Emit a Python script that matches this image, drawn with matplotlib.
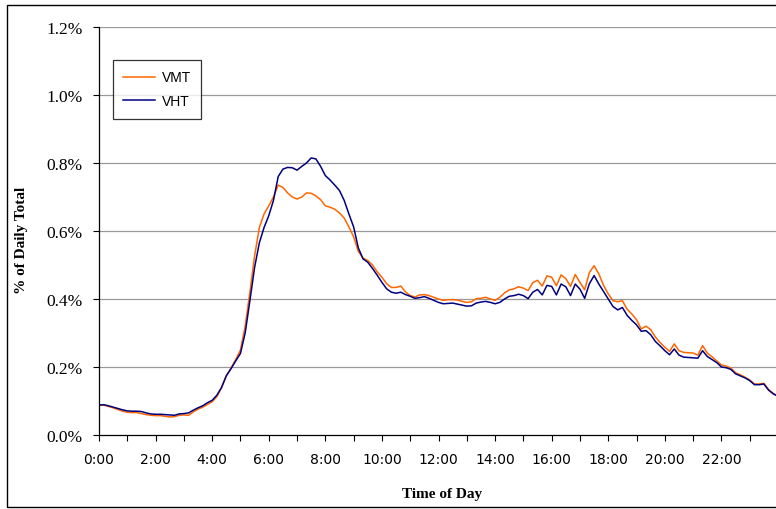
import numpy as np
import matplotlib.pyplot as plt
from matplotlib.patches import Rectangle
from matplotlib.ticker import FuncFormatter

# time of day in hours, 10-minute steps from 0:00 to 24:00
hours = np.arange(0, 24 + 1e-9, 1 / 6)

# % of daily total
vmt = [0.088, 0.088, 0.084, 0.080, 0.075, 0.070,
       0.067, 0.066, 0.066, 0.063, 0.060, 0.058,
       0.057, 0.057, 0.055, 0.053, 0.054, 0.058,
       0.059, 0.058, 0.068, 0.076, 0.082, 0.090,
       0.098, 0.113, 0.140, 0.175, 0.197, 0.222,
       0.250, 0.320, 0.420, 0.527, 0.610, 0.650,
       0.674, 0.700, 0.735, 0.728, 0.712, 0.700,
       0.694, 0.700, 0.712, 0.711, 0.703, 0.692,
       0.674, 0.670, 0.664, 0.653, 0.638, 0.612,
       0.583, 0.540, 0.520, 0.513, 0.500, 0.480,
       0.464, 0.445, 0.434, 0.434, 0.438, 0.421,
       0.410, 0.406, 0.412, 0.413, 0.410, 0.405,
       0.400, 0.396, 0.398, 0.398, 0.397, 0.393,
       0.390, 0.392, 0.401, 0.402, 0.405, 0.400,
       0.396, 0.405, 0.418, 0.427, 0.430, 0.436,
       0.432, 0.425, 0.448, 0.455, 0.438, 0.468,
       0.464, 0.439, 0.471, 0.460, 0.437, 0.472,
       0.449, 0.427, 0.478, 0.498, 0.474, 0.440,
       0.415, 0.395, 0.392, 0.395, 0.370, 0.356,
       0.339, 0.312, 0.320, 0.310, 0.288, 0.272,
       0.258, 0.246, 0.268, 0.248, 0.243, 0.242,
       0.241, 0.235, 0.263, 0.241, 0.230, 0.218,
       0.206, 0.203, 0.197, 0.183, 0.177, 0.170,
       0.162, 0.150, 0.150, 0.152, 0.134, 0.122,
       0.114]

vht = [0.088, 0.089, 0.086, 0.082, 0.078, 0.074,
       0.071, 0.070, 0.070, 0.069, 0.065, 0.062,
       0.061, 0.061, 0.060, 0.059, 0.058, 0.062,
       0.063, 0.065, 0.073, 0.080, 0.086, 0.095,
       0.102, 0.117, 0.140, 0.174, 0.195, 0.218,
       0.240, 0.300, 0.395, 0.493, 0.565, 0.610,
       0.645, 0.690, 0.760, 0.782, 0.787, 0.786,
       0.779, 0.790, 0.800, 0.815, 0.812, 0.790,
       0.763, 0.750, 0.735, 0.719, 0.690, 0.650,
       0.612, 0.550, 0.518, 0.508, 0.490, 0.470,
       0.449, 0.430, 0.420, 0.417, 0.420, 0.413,
       0.408, 0.402, 0.404, 0.407, 0.402, 0.396,
       0.390, 0.386, 0.387, 0.388, 0.385, 0.382,
       0.379, 0.380, 0.388, 0.391, 0.393, 0.390,
       0.386, 0.390, 0.400, 0.408, 0.410, 0.414,
       0.410, 0.401, 0.420, 0.428, 0.412, 0.440,
       0.437, 0.412, 0.444, 0.436, 0.410, 0.444,
       0.429, 0.402, 0.445, 0.469, 0.444, 0.422,
       0.400, 0.378, 0.368, 0.375, 0.352, 0.337,
       0.324, 0.305, 0.307, 0.295, 0.275, 0.262,
       0.248, 0.236, 0.253, 0.235, 0.229, 0.228,
       0.227, 0.226, 0.248, 0.231, 0.222, 0.213,
       0.200, 0.198, 0.193, 0.180, 0.174, 0.168,
       0.160, 0.148, 0.148, 0.150, 0.132, 0.121,
       0.114]

y_ticks = [0.0, 0.2, 0.4, 0.6, 0.8, 1.0, 1.2]

fig = plt.figure(figsize=(7.76, 5.10), dpi=100)
fig.patches.append(Rectangle((7 / 776, 2 / 510), 1.0, 502 / 510, transform=fig.transFigure,
                             fill=False, edgecolor='black', linewidth=1.0))

ax = fig.add_axes([99 / 776, 74 / 510, 679 / 776, 408 / 510])
ax.plot(hours, vmt, color='#FF6600', linewidth=1.1, label='VMT')
ax.plot(hours, vht, color='#000080', linewidth=1.1, label='VHT')

ax.set_xlim(0, 24)
ax.set_ylim(0, 1.2)
ax.set_yticks(y_ticks)
ax.yaxis.set_major_formatter(FuncFormatter(lambda v, p: f"{v:.1f}%"))
ax.set_xticks(np.arange(0, 25, 1))
ax.set_xticklabels([f"{h}:00" if h % 2 == 0 and h < 24 else "" for h in range(25)])

for y in y_ticks[1:]:
    ax.axhline(y, color='#999999', linewidth=0.9, zorder=0)

for side in ('top', 'right'):
    ax.spines[side].set_visible(False)
for side in ('left', 'bottom'):
    ax.spines[side].set_linewidth(0.9)
ax.tick_params(direction='out', length=4, width=0.8, colors='black')
ax.tick_params(axis='x', pad=8)
ax.tick_params(axis='y', pad=8)
for lbl in ax.get_yticklabels():
    lbl.set_fontfamily('Liberation Serif')
    lbl.set_fontsize(12.5)
for lbl in ax.get_xticklabels():
    lbl.set_fontfamily('DejaVu Sans')
    lbl.set_fontsize(10)

fig.text(442 / 776, 1 - 495 / 510, 'Time of Day', ha='center', va='center',
         family='Liberation Serif', fontweight='bold', fontsize=11)
fig.text(22 / 776, 1 - 240 / 510, '% of Daily Total', ha='center', va='center', rotation=90,
         family='Liberation Serif', fontweight='bold', fontsize=11)

leg = ax.legend(loc='upper left', bbox_to_anchor=(14 / 679, 1 - 33 / 408), frameon=True, fancybox=False,
                prop={'family': 'Liberation Sans', 'size': 10}, handlelength=2.3, handletextpad=0.45,
                borderpad=0.75, labelspacing=0.7, borderaxespad=0)
leg.get_frame().set_edgecolor('black')
leg.get_frame().set_linewidth(0.9)

fig.savefig('out.png', dpi=100)
